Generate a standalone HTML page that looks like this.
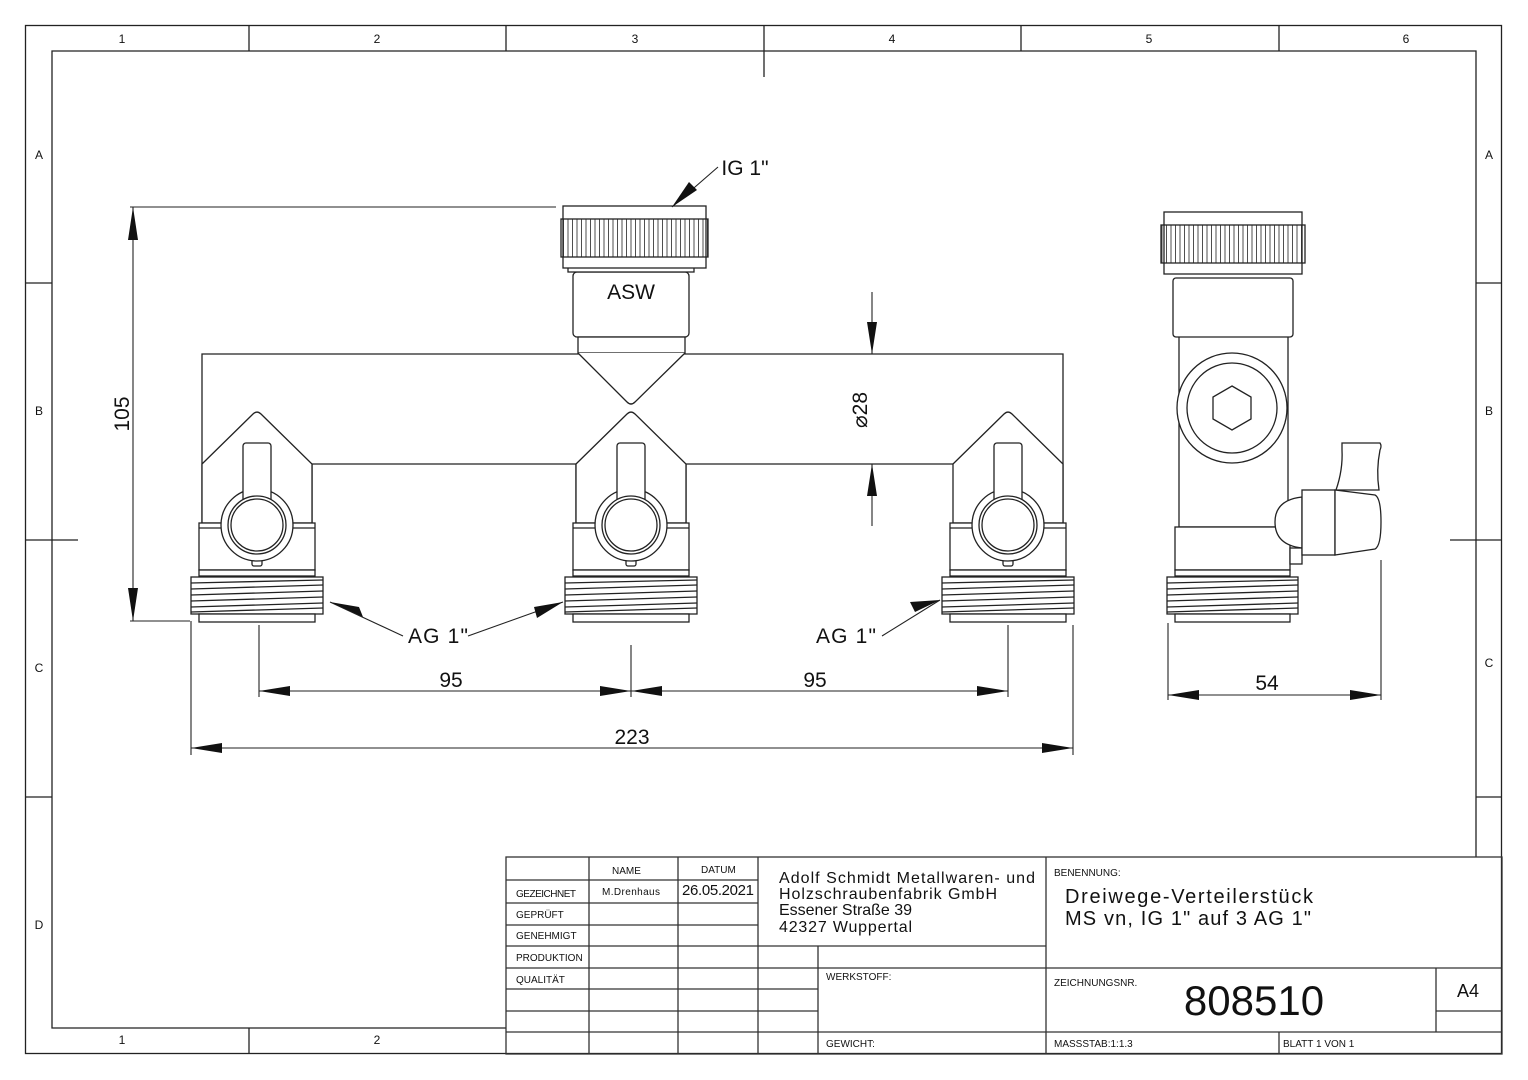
<!DOCTYPE html>
<html><head><meta charset="utf-8"><style>
html,body{margin:0;padding:0;background:#fff}
svg{display:block}
text{font-family:"Liberation Sans",sans-serif;fill:#111}
</style></head><body>
<svg width="1528" height="1080" viewBox="0 0 1528 1080" xmlns="http://www.w3.org/2000/svg">
<defs>
<pattern id="kn" x="0" y="0" width="4.5" height="10" patternUnits="userSpaceOnUse">
<line x1="1" y1="0" x2="1" y2="10" stroke="#222" stroke-width="0.8"/>
</pattern>
<g id="outlet" fill="#fff" stroke="#222" stroke-width="1.3">
<path d="M-55,464 L-4,414 Q0,410 4,414 L55,464 L55,523 L-55,523 Z"/>
<rect x="-58" y="523" width="116" height="47"/>
<line x1="-58" y1="528" x2="58" y2="528"/>
<rect x="-58" y="570" width="116" height="6"/>
<rect x="-66" y="577" width="132" height="37"/>
<line x1="-66" y1="583" x2="66" y2="580"/>
<line x1="-66" y1="589" x2="66" y2="585"/>
<line x1="-66" y1="595" x2="66" y2="591"/>
<line x1="-66" y1="601" x2="66" y2="597"/>
<line x1="-66" y1="607" x2="66" y2="603"/>
<line x1="-66" y1="612" x2="66" y2="608"/>
<rect x="-58" y="614" width="116" height="8"/>
<rect x="-5" y="558" width="10" height="8" rx="2"/>
<circle cx="0" cy="525" r="36"/>
<rect x="-14" y="443" width="28" height="60" rx="3"/>
<circle cx="0" cy="525" r="29"/>
<circle cx="0" cy="525" r="26"/>
</g>
</defs>

<g fill="none" stroke="#222" stroke-width="1.3">
<rect x="25.5" y="25.5" width="1476" height="1028"/>
<path d="M506,1028 H52 V51 H1476 V857"/>
<line x1="249" y1="25" x2="249" y2="51"/><line x1="506" y1="25" x2="506" y2="51"/>
<line x1="764" y1="25" x2="764" y2="77"/><line x1="1021" y1="25" x2="1021" y2="51"/>
<line x1="1279" y1="25" x2="1279" y2="51"/>
<line x1="249" y1="1028" x2="249" y2="1054"/>
<line x1="25" y1="283" x2="52" y2="283"/><line x1="25" y1="540" x2="78" y2="540"/><line x1="25" y1="797" x2="52" y2="797"/>
<line x1="1476" y1="283" x2="1502" y2="283"/><line x1="1450" y1="540" x2="1502" y2="540"/><line x1="1476" y1="797" x2="1502" y2="797"/>
</g>
<g font-size="12" text-anchor="middle">
<text x="122" y="43">1</text><text x="377" y="43">2</text><text x="635" y="43">3</text>
<text x="892" y="43">4</text><text x="1149" y="43">5</text><text x="1406" y="43">6</text>
<text x="122" y="1044">1</text><text x="377" y="1044">2</text>
<text x="39" y="159">A</text><text x="39" y="415">B</text><text x="39" y="672">C</text><text x="39" y="929">D</text>
<text x="1489" y="159">A</text><text x="1489" y="415">B</text><text x="1489" y="667">C</text>
</g>

<g fill="#fff" stroke="#222" stroke-width="1.3">
<path d="M202,354 H1063 V523 H954 V464 H686 V523 H576 V464 H312 V523 H202 Z"/>
<rect x="573" y="272" width="116" height="65" rx="4"/>
<rect x="578" y="337" width="107" height="16"/>
<path d="M578,353 L627,402 Q631,406 635,402 L685,353"/>
<rect x="568" y="267" width="126" height="5"/>
<rect x="563" y="206" width="143" height="62"/>
<rect x="561" y="219" width="147" height="38" fill="url(#kn)"/>
</g>
<use href="#outlet" x="257"/>
<use href="#outlet" x="631"/>
<use href="#outlet" x="1008"/>
<text x="631" y="299" font-size="21" text-anchor="middle">ASW</text>

<g fill="#fff" stroke="#222" stroke-width="1.3">
<rect x="1179" y="335" width="109" height="192"/>
<rect x="1173" y="278" width="120" height="59" rx="3"/>
<rect x="1164" y="212" width="138" height="62"/>
<rect x="1161" y="225" width="144" height="38" fill="url(#kn)"/>
<circle cx="1232" cy="408" r="55"/>
<circle cx="1232" cy="408" r="45"/>
<polygon points="1232,386 1251,397 1251,419 1232,430 1213,419 1213,397"/>
<rect x="1175" y="527" width="115" height="43"/>
<rect x="1175" y="570" width="115" height="6"/>
<rect x="1167" y="577" width="131" height="37"/>
<line x1="1167" y1="583" x2="1298" y2="580"/><line x1="1167" y1="589" x2="1298" y2="585"/>
<line x1="1167" y1="595" x2="1298" y2="591"/><line x1="1167" y1="601" x2="1298" y2="597"/>
<line x1="1167" y1="607" x2="1298" y2="603"/><line x1="1167" y1="612" x2="1298" y2="608"/>
<rect x="1175" y="614" width="115" height="8"/>
<path d="M1342,443 H1380 Q1382,446 1380,450 Q1376,470 1379,490 L1336,490 Q1343,470 1342,450 Z"/>
<rect x="1290" y="548" width="12" height="16"/>
<path d="M1302,497 Q1275,500 1275,522 Q1275,545 1302,548 Z"/>
<rect x="1302" y="490" width="33" height="65"/>
<path d="M1335,490 L1375,495 Q1381,498 1381,522 Q1381,546 1375,549 L1335,555 Z"/>
</g>

<g stroke="#222" stroke-width="1.1" fill="none">
<line x1="130" y1="207" x2="556" y2="207"/><line x1="130" y1="621" x2="190" y2="621"/>
<line x1="133" y1="207" x2="133" y2="621"/>
<line x1="872" y1="292" x2="872" y2="354"/><line x1="872" y1="464" x2="872" y2="526"/>
<line x1="860" y1="354" x2="1063" y2="354"/>
<line x1="259" y1="625" x2="259" y2="697"/><line x1="631" y1="645" x2="631" y2="697"/>
<line x1="1008" y1="625" x2="1008" y2="697"/>
<line x1="191" y1="621" x2="191" y2="755"/><line x1="1073" y1="625" x2="1073" y2="755"/>
<line x1="259" y1="691" x2="1008" y2="691"/>
<line x1="191" y1="748" x2="1073" y2="748"/>
<line x1="1168" y1="623" x2="1168" y2="700"/><line x1="1381" y1="560" x2="1381" y2="700"/>
<line x1="1168" y1="695" x2="1381" y2="695"/>
<line x1="718" y1="167" x2="672" y2="207"/>
<line x1="403" y1="636" x2="330" y2="602"/><line x1="468" y1="636" x2="563" y2="602"/>
<line x1="882" y1="636" x2="940" y2="600"/>
</g>
<g fill="#111">
<polygon points="133,207 128,240 138,240"/><polygon points="133,621 128,588 138,588"/>
<polygon points="872,354 867,322 877,322"/><polygon points="872,464 867,496 877,496"/>
<polygon points="259,691 290,686 290,696"/><polygon points="631,691 600,686 600,696"/>
<polygon points="631,691 662,686 662,696"/><polygon points="1008,691 977,686 977,696"/>
<polygon points="191,748 222,743 222,753"/><polygon points="1073,748 1042,743 1042,753"/>
<polygon points="1168,695 1199,690 1199,700"/><polygon points="1381,695 1350,690 1350,700"/>
<polygon points="672,207 689,182 697,190"/>
<polygon points="330,602 359,607 363,617"/>
<polygon points="563,602 537,618 534,607"/>
<polygon points="940,600 915,612 910,602"/>
</g>
<g font-size="21" text-anchor="middle">
<text x="745" y="175">IG 1"</text>
<text x="438" y="643" textLength="60">AG 1"</text>
<text x="846" y="643" textLength="60">AG 1"</text>
<text x="451" y="687">95</text><text x="815" y="687">95</text>
<text x="632" y="744">223</text><text x="1267" y="690">54</text>
<text transform="translate(129,414) rotate(-90)">105</text>
<text transform="translate(867,410) rotate(-90)">⌀28</text>
</g>

<g stroke="#333" stroke-width="1.3" fill="none">
<rect x="506" y="857" width="996" height="197"/>
<line x1="589" y1="857" x2="589" y2="1054"/><line x1="678" y1="857" x2="678" y2="1054"/>
<line x1="758" y1="857" x2="758" y2="1054"/><line x1="818" y1="946" x2="818" y2="1054"/>
<line x1="1046" y1="857" x2="1046" y2="1054"/>
<line x1="506" y1="880" x2="758" y2="880"/><line x1="506" y1="903" x2="758" y2="903"/>
<line x1="506" y1="925" x2="758" y2="925"/><line x1="506" y1="946" x2="1046" y2="946"/>
<line x1="506" y1="968" x2="1502" y2="968"/><line x1="506" y1="989" x2="818" y2="989"/>
<line x1="506" y1="1011" x2="818" y2="1011"/><line x1="506" y1="1032" x2="1502" y2="1032"/>
<line x1="1436" y1="968" x2="1436" y2="1032"/><line x1="1436" y1="1011" x2="1502" y2="1011"/>
<line x1="1279" y1="1032" x2="1279" y2="1054"/>
</g>
<g font-size="10">
<text x="612" y="874">NAME</text><text x="701" y="873">DATUM</text>
<text x="516" y="897" textLength="60">GEZEICHNET</text><text x="602" y="895" textLength="58">M.Drenhaus</text>
<text x="516" y="918">GEPRÜFT</text><text x="516" y="939">GENEHMIGT</text>
<text x="516" y="961">PRODUKTION</text><text x="516" y="983">QUALITÄT</text>
<text x="826" y="980">WERKSTOFF:</text><text x="826" y="1047">GEWICHT:</text>
<text x="1054" y="876">BENENNUNG:</text><text x="1054" y="986">ZEICHNUNGSNR.</text>
<text x="1054" y="1047">MASSSTAB:1:1.3</text><text x="1283" y="1047">BLATT 1 VON 1</text>
</g>
<text x="682" y="895" font-size="15" textLength="72">26.05.2021</text>
<g font-size="16">
<text x="779" y="883" textLength="256">Adolf Schmidt Metallwaren- und</text>
<text x="779" y="899" textLength="218">Holzschraubenfabrik GmbH</text>
<text x="779" y="915" textLength="133">Essener Straße 39</text>
<text x="779" y="932" textLength="133">42327 Wuppertal</text>
</g>
<g font-size="20">
<text x="1065" y="903" textLength="248">Dreiwege-Verteilerstück</text>
<text x="1065" y="925" textLength="246">MS vn, IG 1" auf 3 AG 1"</text>
</g>
<text x="1254" y="1015" font-size="42" text-anchor="middle">808510</text>
<text x="1468" y="997" font-size="18" text-anchor="middle">A4</text>
</svg>
</body></html>
